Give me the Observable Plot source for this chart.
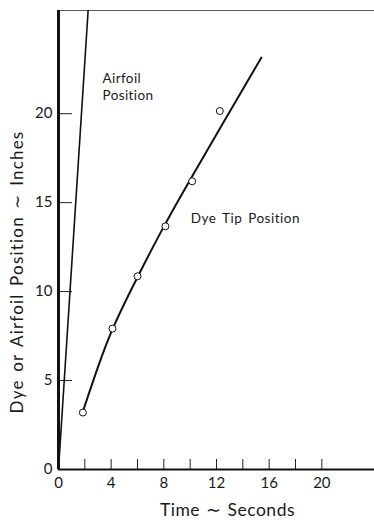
<!DOCTYPE html>
<html><head><meta charset="utf-8">
<script src="https://cdn.jsdelivr.net/npm/d3@7"></script>
<script src="https://cdn.jsdelivr.net/npm/@observablehq/plot@0.6"></script>
<style>
body{margin:0;background:#fff;}
#chart svg{display:block;}
</style>
</head><body><div id="chart"></div>
<script>
// measured dye tip points (time s, position in)
const dyeTime = [1.85, 4.1, 6.0, 8.12, 10.15, 12.25];
const dyePos  = [3.2, 7.92, 10.86, 13.67, 16.2, 20.15];
// faired curve through dye tip data
const fitTime = [1.87, 3.0, 4.07, 6.05, 8.0, 10.0, 12.6, 15.4];
const fitPos  = [3.3, 5.8, 7.95, 10.9, 13.7, 16.3, 19.6, 23.15];
// airfoil position line
const airfoilTime = [0, 2.25];
const airfoilPos  = [0, 25.8];
// ticks
const xTickLabels = [0, 4, 8, 12, 16, 20];
const xTickMarks = [2, 4, 6, 8, 10, 12, 14, 16, 18, 20];
const yTickLabels = [0, 5, 10, 15, 20];
const yTickMarks = [5, 10, 15, 20];
// annotations
const labelText = ["Airfoil\nPosition", "Dye Tip Position"];
const labelTime = [3.34, 10.05];
const labelPos  = [22.35, 14.5];
const xTitle = "Time \u223C Seconds";
const yTitle = "Dye or Airfoil Position \u223C Inches";

const xMax = 24, yMax = 25.8;
const W = 374, H = 520, mL = 58, mT = 10, mB = 51, mR = 0;
const frameW = W - mL - mR, frameH = H - mT - mB;
const font = "Lato, 'Open Sans', sans-serif";

const dye = dyeTime.map((t, i) => ({t, p: dyePos[i]}));
const fit = fitTime.map((t, i) => ({t, p: fitPos[i]}));
const air = airfoilTime.map((t, i) => ({t, p: airfoilPos[i]}));
const labels = labelText.map((s, i) => ({s, t: labelTime[i], p: labelPos[i]}));

const chart = Plot.plot({
  width: W, height: H,
  marginLeft: mL, marginTop: mT, marginBottom: mB, marginRight: mR,
  style: {fontFamily: font, color: "#1a1a1a", background: "#fff"},
  x: {domain: [0, xMax]},
  y: {domain: [0, yMax]},
  marks: [
    Plot.ruleY([yMax], {stroke: "#555", strokeWidth: 1}),
    Plot.tickX(xTickMarks, {x: d => d, stroke: "#222", strokeWidth: 1, insetTop: frameH - 10}),
    Plot.tickY(yTickMarks, {y: d => d, stroke: "#222", strokeWidth: 1, insetRight: frameW - 14}),
    Plot.line(air, {x: "t", y: "p", stroke: "#111", strokeWidth: 1.6}),
    Plot.line(fit, {x: "t", y: "p", stroke: "#111", strokeWidth: 2, curve: "basis"}),
    Plot.dot(dye, {x: "t", y: "p", r: 3.5, fill: "#fff", stroke: "#111", strokeWidth: 1}),
    Plot.text(labels, {x: "t", y: "p", text: "s", textAnchor: "start", lineAnchor: "top", fontSize: 13.5, lineHeight: 1.2, fill: "#1a1a1a"}),
    Plot.ruleX([0], {stroke: "#111", strokeWidth: 3}),
    Plot.ruleY([0], {stroke: "#111", strokeWidth: 2}),
    Plot.axisX(xTickLabels, {tickSize: 0, tickPadding: 8, fontSize: 15, label: null}),
    Plot.axisY(yTickLabels, {tickSize: 0, tickPadding: 6, fontSize: 15, label: null}),
    Plot.text([xTitle], {frameAnchor: "bottom", dx: 11, dy: 41, fontSize: 17.5, textAnchor: "middle", lineAnchor: "middle"}),
    Plot.text([yTitle], {frameAnchor: "left", dx: -41, dy: 32, rotate: -90, fontSize: 17, textAnchor: "middle", lineAnchor: "middle"})
  ]
});
document.getElementById("chart").appendChild(chart);

// letter spacing to mimic the wide geometric type of the original
d3.select(chart).selectAll("text").each(function() {
  const t = this.textContent;
  const el = d3.select(this);
  if (t === xTitle) el.style("letter-spacing", "0.5px").style("word-spacing", "1px");
  else if (t === yTitle) el.style("letter-spacing", "1.2px").style("word-spacing", "2px");
  else if (t.startsWith("Dye Tip")) el.style("letter-spacing", "0.5px").style("word-spacing", "2px");
  else if (t.startsWith("Airfoil")) el.style("letter-spacing", "0.4px");
});
</script>
</body></html>
